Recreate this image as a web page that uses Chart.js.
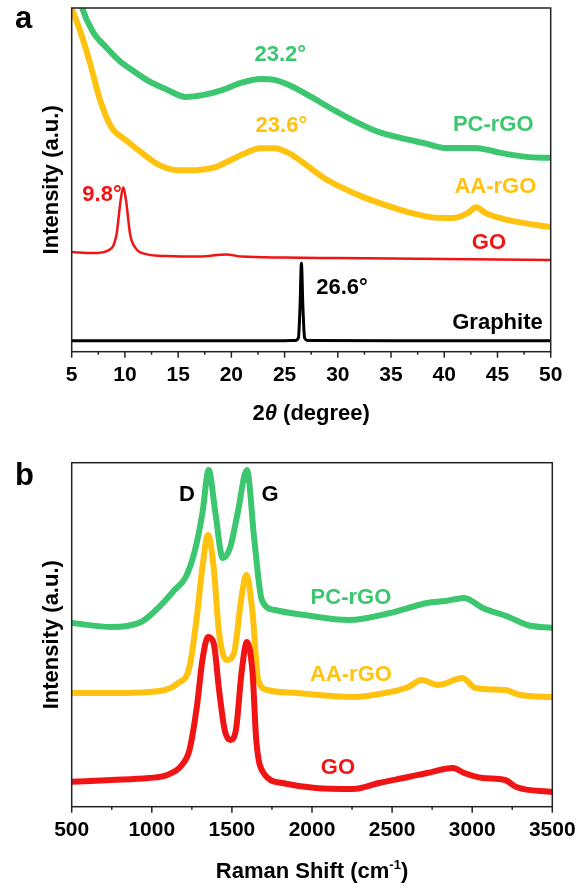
<!DOCTYPE html>
<html lang="en">
<head>
<meta charset="UTF-8">
<title>XRD and Raman</title>
<script src="https://cdn.jsdelivr.net/npm/chart.js"></script>
<style>
  html, body { margin: 0; padding: 0; background: #fff; }
  #wrap { position: relative; width: 582px; height: 888px; }
  #xrd { position: absolute; left: 0; top: 0; }
  #raman { position: absolute; left: 0; top: 440px; }
</style>
</head>
<body>
<div id="wrap">
  <canvas id="xrd" width="582" height="440"></canvas>
  <canvas id="raman" width="582" height="448"></canvas>
</div>
<script>
// ---- panel a: XRD (2theta in degrees, intensity in arbitrary units) ----
const graphiteX = [5, 15, 25, 26.0, 26.3, 26.45, 26.58, 26.72, 26.88, 27.2, 35, 50];
const graphiteY = [11, 11, 11, 11.2, 14, 45, 88.5, 45, 14, 11.2, 11, 11];

const goX = [5, 7, 8.5, 9.2, 9.6, 9.85, 10.1, 10.5, 11, 12, 14, 17, 19.5, 21, 25, 30, 40, 50];
const goY = [99.7, 98.7, 101.7, 116.7, 151.7, 164.7, 151.7, 116.7, 103.7, 97.7, 95.7, 95.2, 97.2, 95.2, 94.2, 93.7, 92.7, 91.7];

const aaX = [5, 5.77, 6.7, 7.67, 8.73, 10.1, 11.5, 13.25, 15, 16.7, 18.5, 19.9, 21.3, 22.7, 24.05, 25.4, 26.8, 28.6, 30.3, 32.4, 34.5, 36.6, 38.7, 40.8, 42.2, 43.0, 43.9, 45.3, 47, 50];
const aaY = [343.7, 321.7, 289.7, 251.7, 224.7, 211.7, 199.7, 186.7, 181.7, 181.7, 184.7, 191.7, 198.7, 203.7, 203.7, 198.7, 188.7, 174.7, 164.7, 154.7, 146.7, 139.7, 134.7, 133.7, 138.7, 144.7, 138.7, 133.7, 129.7, 124.7];

const pcX = [5, 6.0, 7.0, 8.3, 9.5, 10.8, 12.2, 14, 15.7, 17.4, 19.2, 20.9, 22.7, 24.05, 25.8, 27.5, 29.6, 31.7, 33.8, 35.9, 38, 40.1, 42.9, 45.3, 47.7, 50];
const pcY = [390, 343.7, 320, 304, 291, 281, 271, 262, 255, 257, 262, 269, 273, 272, 265, 255, 242, 230, 220, 214, 209, 204, 204, 199, 195, 194];

// ---- panel b: Raman (shift in cm-1, intensity in arbitrary units) ----
const ramGoX = [500, 748, 980, 1096, 1188, 1235, 1281, 1316, 1351, 1386, 1420, 1455, 1490, 1525, 1560, 1594, 1629, 1652, 1698, 1814, 2023, 2255, 2417, 2602, 2718, 2880, 2950, 3066, 3205, 3275, 3500];
const ramGoY = [25, 26.7, 28.7, 31.7, 41.7, 56.7, 99.7, 146.7, 169.7, 163.7, 116.7, 76.7, 66.7, 76.7, 133.7, 164.7, 133.7, 66.7, 33.7, 23.7, 18.7, 17.7, 23.7, 29.7, 33.7, 38.7, 33.7, 28.7, 26.7, 19.7, 14.7];

const ramAaX = [500, 748, 980, 1165, 1235, 1281, 1316, 1351, 1386, 1420, 1467, 1513, 1560, 1590, 1629, 1664, 1722, 1907, 2255, 2487, 2602, 2684, 2788, 2939, 3020, 3205, 3298, 3500];
const ramAaY = [113.7, 113.7, 114.7, 123.7, 139.7, 189.7, 239.7, 271.7, 239.7, 173.7, 146.7, 153.7, 209.7, 231.7, 193.7, 126.7, 116.7, 113.7, 109.7, 114.7, 119.7, 126.7, 121.7, 128.7, 118.7, 116.7, 111.7, 109.7];

const ramPcX = [500, 748, 933, 1026, 1142, 1212, 1270, 1316, 1355, 1397, 1443, 1490, 1536, 1594, 1640, 1687, 1768, 1953, 2232, 2487, 2718, 2834, 2950, 3066, 3228, 3344, 3500];
const ramPcY = [183.7, 179.7, 184.7, 196.7, 216.7, 229.7, 256.7, 293.7, 336.7, 293.7, 248.7, 259.7, 293.7, 336.7, 266.7, 206.7, 196.7, 191.7, 186.7, 193.7, 203.7, 205.7, 208.7, 198.7, 189.7, 181.7, 178.7];

const GREEN = '#3cc66f';
const YELLOW = '#ffc20e';
const RED = '#f01414';
const FONT = '"Liberation Sans", Arial, sans-serif';

function pts(xs, ys) {
  return xs.map((x, i) => ({x: x, y: ys[i]}));
}

function line(label, xs, ys, color, width) {
  return {
    label: label,
    data: pts(xs, ys),
    borderColor: color,
    borderWidth: width,
    pointRadius: 0,
    fill: false,
    cubicInterpolationMode: 'monotone',
    clip: 0
  };
}

// frame, minor ticks, text labels, panel letter, x title
const decor = {
  id: 'decor',
  beforeDatasetsDraw(chart, args, opts) {
    const {ctx, scales: {x, y}} = chart;
    ctx.save();
    ctx.font = 'bold 22px ' + FONT;
    ctx.textAlign = 'center';
    ctx.textBaseline = 'middle';
    opts.notes.forEach(n => {
      ctx.fillStyle = n.color;
      ctx.fillText(n.text, x.getPixelForValue(n.x), y.getPixelForValue(n.y));
    });
    ctx.restore();
  },
  afterDraw(chart, args, opts) {
    const {ctx, chartArea: a, scales: {x}} = chart;
    ctx.save();
    ctx.strokeStyle = '#222';
    ctx.lineWidth = 1.5;
    ctx.strokeRect(a.left, a.top, a.right - a.left, a.bottom - a.top);
    const n = Math.round((x.max - x.min) / opts.minor);
    for (let i = 0; i <= n; i++) {
      const px = x.getPixelForValue(x.min + i * opts.minor);
      ctx.beginPath();
      ctx.moveTo(px, a.bottom);
      ctx.lineTo(px, a.bottom + (i % 2 === 0 ? 6 : 3));
      ctx.stroke();
    }
    // panel letter
    ctx.fillStyle = '#000';
    ctx.font = 'bold 31px ' + FONT;
    ctx.textAlign = 'left';
    ctx.textBaseline = 'alphabetic';
    ctx.fillText(opts.letter, 15, opts.letterY);
    // x axis title, drawn in pieces
    ctx.textBaseline = 'middle';
    const parts = opts.xTitle.map(p => {
      const f = (p.italic ? 'italic ' : '') + 'bold ' + (p.sup ? 13 : 22) + 'px ' + FONT;
      ctx.font = f;
      return {t: p.t, f: f, sup: p.sup, w: ctx.measureText(p.t).width};
    });
    let tx = (a.left + a.right) / 2 - parts.reduce((s, p) => s + p.w, 0) / 2;
    parts.forEach(p => {
      ctx.font = p.f;
      ctx.fillText(p.t, tx, opts.xTitleY + (p.sup ? -7 : 0));
      tx += p.w;
    });
    ctx.restore();
  }
};

function options(cfg) {
  return {
    responsive: false,
    animation: false,
    layout: {padding: {top: cfg.top, right: cfg.right, left: 0, bottom: 0}},
    plugins: {
      legend: {display: false},
      tooltip: {enabled: false},
      decor: cfg.decor
    },
    scales: {
      x: {
        type: 'linear',
        min: cfg.xMin,
        max: cfg.xMax,
        grid: {display: false, drawTicks: false},
        border: {display: false},
        ticks: {
          stepSize: cfg.step,
          padding: 11,
          color: '#000',
          font: {family: FONT, weight: 'bold', size: 21},
          callback: v => String(v)
        },
        afterFit: s => {
          s.height = cfg.xHeight;
          s.paddingLeft = 0;
          s.paddingRight = 0;
        }
      },
      y: {
        min: 0,
        max: 344,
        grid: {display: false, drawTicks: false},
        border: {display: false},
        ticks: {display: false},
        title: {
          display: true,
          text: 'Intensity (a.u.)',
          color: '#000',
          font: {family: FONT, weight: 'bold', size: 22},
          padding: {top: 39, bottom: 0}
        },
        afterFit: s => { s.width = 71.7; }
      }
    }
  };
}

new Chart(document.getElementById('xrd'), {
  type: 'line',
  data: {
    datasets: [
      line('Graphite', graphiteX, graphiteY, '#000', 3),
      line('GO', goX, goY, RED, 2.5),
      line('AA-rGO', aaX, aaY, YELLOW, 6),
      line('PC-rGO', pcX, pcY, GREEN, 6)
    ]
  },
  options: options({
    top: 8, right: 31.3, xMin: 5, xMax: 50, step: 5, xHeight: 88.3,
    decor: {
      minor: 2.5,
      letter: 'a', letterY: 28,
      xTitle: [{t: '2'}, {t: 'θ', italic: true}, {t: ' (degree)'}],
      xTitleY: 414,
      notes: [
        {text: '23.2°', x: 24.6, y: 296.7, color: GREEN},
        {text: 'PC-rGO', x: 44.6, y: 226.7, color: GREEN},
        {text: '23.6°', x: 24.7, y: 225.7, color: YELLOW},
        {text: 'AA-rGO', x: 44.8, y: 164.7, color: YELLOW},
        {text: '9.8°', x: 7.85, y: 156.7, color: RED},
        {text: 'GO', x: 44.2, y: 108.7, color: RED},
        {text: '26.6°', x: 30.4, y: 63.7, color: '#000'},
        {text: 'Graphite', x: 45, y: 28.7, color: '#000'}
      ]
    }
  }),
  plugins: [decor]
});

new Chart(document.getElementById('raman'), {
  type: 'line',
  data: {
    datasets: [
      line('GO', ramGoX, ramGoY, RED, 6),
      line('AA-rGO', ramAaX, ramAaY, YELLOW, 6),
      line('PC-rGO', ramPcX, ramPcY, GREEN, 6)
    ]
  },
  options: options({
    top: 22.7, right: 29.7, xMin: 500, xMax: 3500, step: 500, xHeight: 81.3,
    decor: {
      minor: 250,
      letter: 'b', letterY: 45,
      xTitle: [{t: 'Raman Shift (cm'}, {t: '-1', sup: true}, {t: ')'}],
      xTitleY: 432,
      notes: [
        {text: 'D', x: 1220, y: 311.7, color: '#000'},
        {text: 'G', x: 1738, y: 311.7, color: '#000'},
        {text: 'PC-rGO', x: 2243, y: 208.7, color: GREEN},
        {text: 'AA-rGO', x: 2243, y: 131.7, color: YELLOW},
        {text: 'GO', x: 2162, y: 38.7, color: RED}
      ]
    }
  }),
  plugins: [decor]
});
</script>
</body>
</html>
